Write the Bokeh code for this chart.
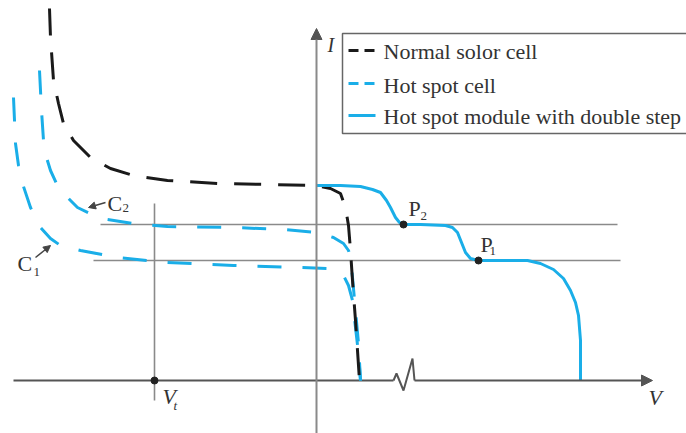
from bokeh.plotting import figure
from bokeh.models import Range1d, Arrow, NormalHead
from bokeh.core.properties import value
from bokeh.embed import file_html
from bokeh.resources import INLINE

# ---- data (V, I), origin at the axes' crossing ----
normal_v = [-267, -266, -263, -258, -253, -243, -226, -206, -183, -149, -99, -49, -1, 14, 24, 29, 32, 34, 36, 39, 41, 43]
normal_i = [372, 343, 300, 277, 257, 240, 223, 212, 205, 200, 197, 196, 195, 192, 187, 173, 155, 130, 100, 60, 30, 0]

c2_v = [-277, -276, -275, -273, -270, -266, -260, -253, -239, -216, -183, -149, -83, -33, 1, 17, 27, 32, 34, 36, 39, 42, 44]
c2_i = [310, 290, 270, 240, 223, 210, 197, 187, 173, 162, 157, 154, 153, 151, 148, 143, 137, 130, 123, 103, 70, 37, 0]

c1_v = [-303, -302, -301, -298, -294, -286, -276, -266, -256, -236, -199, -149, -83, -16, 12, 27, 32, 36, 39, 42, 44]
c1_i = [283, 260, 237, 215, 197, 173, 153, 142, 135, 130, 123, 118, 115, 113, 112, 105, 95, 80, 53, 27, 0]

module_v = [0, 24, 44, 56, 64, 70, 74, 79, 83, 87, 104, 129, 136, 141, 145, 149, 154, 162, 184, 211, 224, 237, 247, 254, 259, 262, 264, 264]
module_i = [195, 195, 194, 191, 188, 180, 173, 163, 158, 156, 156, 155, 153, 148, 138, 128, 122, 120, 120, 120, 117, 111, 102, 90, 78, 65, 40, 0]

p2 = (87, 156)       # operating point P2
p1 = (162, 120)      # operating point P1
vt = -162            # voltage Vt

level2_v = [-216, 301]   # horizontal line through P2
level1_v = [-223, 304]   # horizontal line through P1
vt_i = [177, -20]        # vertical line through Vt

break_v = [77, 80, 87, 96, 98]
break_i = [0, 7, -10, 22, 0]

legend_labels = ["Normal solor cell", "Hot spot cell", "Hot spot module with double step"]

# ---- styles ----
BLUE = "#1aaee8"
BLACK = "#1a1a1a"
GRAY = "#8a8a8a"
AXIS = "#555555"
TXT = "#333333"
SERIF = value("Liberation Serif")
DY = 7  # baseline correction for text

p = figure(width=686, height=433, x_range=Range1d(-316, 370), y_range=Range1d(-53, 380),
           min_border=0, toolbar_location=None, output_backend="svg",
           background_fill_color="white", border_fill_color="white")
p.axis.visible = False
p.grid.visible = False
p.outline_line_color = None

# reference lines
p.line(level2_v, [p2[1], p2[1]], line_color=GRAY, line_width=1.6)
p.line(level1_v, [p1[1], p1[1]], line_color=GRAY, line_width=1.6)
p.line([vt, vt], vt_i, line_color=GRAY, line_width=1.6)

# axes
p.line([-303, break_v[0]], [0, 0], line_color=AXIS, line_width=2)
p.line(break_v, break_i, line_color=AXIS, line_width=2)
p.add_layout(Arrow(end=NormalHead(size=11, fill_color=AXIS, line_color=AXIS),
                   x_start=break_v[-1], y_start=0, x_end=336, y_end=0,
                   line_color=AXIS, line_width=2))
p.add_layout(Arrow(end=NormalHead(size=11, fill_color=AXIS, line_color=AXIS),
                   x_start=0, y_start=-53, x_end=0, y_end=352,
                   line_color=GRAY, line_width=2))

# curves
p.line(c2_v, c2_i, line_color=BLUE, line_width=3, line_dash="24 21")
p.line(c1_v, c1_i, line_color=BLUE, line_width=3, line_dash="24 21")
p.line(normal_v, normal_i, line_color=BLACK, line_width=3, line_dash="27 17")
p.line(module_v, module_i, line_color=BLUE, line_width=3)

# points
p.scatter([p2[0], p1[0], vt], [p2[1], p1[1], 0], size=7, color="#222222")

# labels
def label(x, y, t, size="22px", style="normal"):
    p.text([x], [y + DY], text=[t], text_font=SERIF, text_font_size=size, text_color=TXT,
           text_baseline="alphabetic", text_align="left", text_font_style=style)

label(11, 329, "I", "20px", "italic")
label(332, -24, "V", "22px", "italic")
label(-154, -23, "V", "22px", "italic")
label(-143, -32, "t", "13px", "italic")
label(-209, 170, "C")
label(-194, 166, "2", "13px")
label(-299, 110, "C")
label(-283, 102, "1", "13px")
label(92, 165, "P")
label(104, 158, "2", "13px")
label(164, 129, "P")
label(173, 123, "1", "13px")

# label arrows
p.add_layout(Arrow(end=NormalHead(size=7, fill_color="#444444", line_color="#444444"),
                   x_start=-211, y_start=178, x_end=-228, y_end=173,
                   line_color="#444444", line_width=1.5))
p.add_layout(Arrow(end=NormalHead(size=7, fill_color="#444444", line_color="#444444"),
                   x_start=-281, y_start=123, x_end=-266, y_end=135,
                   line_color="#444444", line_width=1.5))

# legend box
p.quad(left=[26], right=[384], top=[347], bottom=[247], fill_color="white",
       line_color="#666666", line_width=1.5)
p.line([32, 59], [330, 330], line_color=BLACK, line_width=3, line_dash="10 6")
p.line([32, 59], [297, 297], line_color=BLUE, line_width=3, line_dash="10 6")
p.line([32, 59], [265, 265], line_color=BLUE, line_width=3)
p.text([67, 67, 67], [322 + DY, 288 + DY, 257 + DY], text=legend_labels, text_font=SERIF,
       text_font_size="22px", text_color=TXT, text_baseline="alphabetic")

open("out.html", "w").write(file_html(p, INLINE))
